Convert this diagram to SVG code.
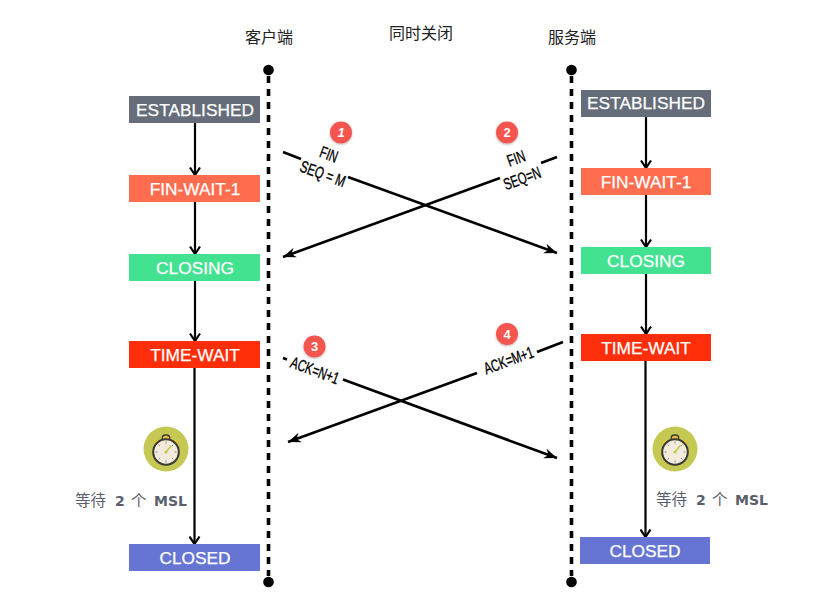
<svg xmlns="http://www.w3.org/2000/svg" width="837" height="600" viewBox="0 0 837 600">
<defs>
<marker id="open" viewBox="0 0 12 12" refX="10.5" refY="6" markerWidth="12" markerHeight="12" markerUnits="userSpaceOnUse" orient="auto"><path d="M3 1 L10.500 6 L3 11" fill="none" stroke="#000" stroke-width="2.200"/></marker>
<marker id="solid" viewBox="0 0 14 12" refX="13" refY="6" markerWidth="14" markerHeight="12" markerUnits="userSpaceOnUse" orient="auto"><path d="M0 1 L13 6 L0 11 L4 6 Z" fill="#000"/></marker>
<filter id="sh" x="-30%" y="-30%" width="160%" height="160%"><feDropShadow dx="0" dy="1" stdDeviation="1" flood-opacity="0.3"/></filter>
<g id="clock">
<circle cx="0" cy="0" r="22.500" fill="#c6c854"/>
<circle cx="-9.500" cy="-7" r="2" fill="#f2c522"/><circle cx="9.500" cy="-7" r="2" fill="#f2c522"/>
<rect x="-3.800" y="-14" width="7.600" height="6.500" rx="3.200" fill="#e5b93c" stroke="#3a3a36" stroke-width="1.300"/>
<circle cx="0" cy="3" r="12.800" fill="#f3ecdc" stroke="#3a3a36" stroke-width="2"/>
<g transform="translate(0 3)" stroke="#77756c" stroke-width="0.800"><path d="M0 -10.500V-8.500M0 10.500V8.500M-10.500 0H-8.500M10.500 0H8.500M-7.400 -7.400L-6 -6M7.400 -7.400L6 -6M-7.400 7.400L-6 6M7.400 7.400L6 6"/></g>
<path d="M0 3 L5 -3" stroke="#c6c854" stroke-width="1.600" stroke-linecap="round"/><circle cx="0" cy="3" r="1.600" fill="#c6c854"/>
</g>
</defs>
<style>
.st{font-family:"Liberation Sans",Arial,sans-serif;font-size:17.300px;fill:#fff;stroke:#fff;stroke-width:.25px;text-anchor:middle}
.ti{font-family:"Noto Sans CJK SC","Noto Sans",sans-serif;font-size:16px;fill:#222;text-anchor:middle}
.wt{font-family:"Noto Sans CJK SC","DejaVu Sans",sans-serif;font-size:15.500px;fill:#59606c}
.wb{font-family:"DejaVu Sans",sans-serif;font-size:14px;font-weight:bold;fill:#59606c}
.lb{font-family:"Liberation Sans",Arial,sans-serif;font-size:16.500px;fill:#000;stroke:#000;stroke-width:.35px;text-anchor:middle}
.nm{font-family:"Liberation Sans",Arial,sans-serif;font-size:13px;font-weight:bold;fill:#fff;text-anchor:middle}
.life{stroke:#000;stroke-width:3.600;stroke-dasharray:7 6;fill:none}
.flow{stroke:#000;stroke-width:2.200;fill:none}
.msg{stroke:#000;stroke-width:2.600;fill:none}
.dot{fill:#000}
.badge{fill:#f5544f;filter:url(#sh)}
</style>
<text class="ti" x="269" y="43">客户端</text>
<text class="ti" x="421" y="39">同时关闭</text>
<text class="ti" x="572" y="43">服务端</text>

<g id="connectors">
<path class="life" d="M268.500 76V576"/>
<path class="life" d="M571.500 76V576"/>
<circle class="dot" cx="268.500" cy="70" r="5.300"/><circle class="dot" cx="268.500" cy="582" r="5.300"/>
<circle class="dot" cx="571.500" cy="70" r="5.300"/><circle class="dot" cx="571.500" cy="582" r="5.300"/>
<path class="flow" marker-end="url(#open)" d="M195 123V175"/>
<path class="flow" marker-end="url(#open)" d="M195 202V254"/>
<path class="flow" marker-end="url(#open)" d="M195 281V341"/>
<path class="flow" marker-end="url(#open)" d="M194.500 368V544"/>
<path class="flow" marker-end="url(#open)" d="M646 116V168"/>
<path class="flow" marker-end="url(#open)" d="M646 195V247"/>
<path class="flow" marker-end="url(#open)" d="M646 274V334"/>
<path class="flow" marker-end="url(#open)" d="M645.500 361V537"/>
<path class="msg" d="M283 152L301 159"/>
<path class="msg" marker-end="url(#solid)" d="M348 177L557 253"/>
<path class="msg" d="M557 157L541 163"/>
<path class="msg" marker-end="url(#solid)" d="M500 178L283 257"/>
<path class="msg" d="M283 358L287 359.500"/>
<path class="msg" marker-end="url(#solid)" d="M343 379.500L557 458"/>
<path class="msg" d="M563 342L537 352"/>
<path class="msg" marker-end="url(#solid)" d="M477 373L288 442"/>
</g>

<g id="c-established"><rect x="129" y="96" width="131" height="27" fill="#646d79"/><text class="st" x="195" y="115.500">ESTABLISHED</text></g>
<g id="c-finwait1"><rect x="129" y="175" width="131" height="27" fill="#ff6d4f"/><text class="st" x="195" y="194.500">FIN-WAIT-1</text></g>
<g id="c-closing"><rect x="129" y="254" width="131" height="27" fill="#43e291"/><text class="st" x="195" y="273.500">CLOSING</text></g>
<g id="c-timewait"><rect x="129" y="341" width="131" height="27" fill="#ff2e0a"/><text class="st" x="195" y="360.500">TIME-WAIT</text></g>
<g id="c-closed"><rect x="129" y="544" width="131" height="27" fill="#6675d3"/><text class="st" x="195" y="563.500">CLOSED</text></g>

<g id="s-established"><rect x="581" y="90" width="130" height="27" fill="#646d79"/><text class="st" x="646" y="109">ESTABLISHED</text></g>
<g id="s-finwait1"><rect x="581" y="168" width="130" height="27" fill="#ff6d4f"/><text class="st" x="646" y="187.500">FIN-WAIT-1</text></g>
<g id="s-closing"><rect x="581" y="247" width="130" height="27" fill="#43e291"/><text class="st" x="646" y="266.500">CLOSING</text></g>
<g id="s-timewait"><rect x="581" y="334" width="130" height="27" fill="#ff2e0a"/><text class="st" x="646" y="353.500">TIME-WAIT</text></g>
<g id="s-closed"><rect x="580" y="537" width="130" height="27" fill="#6675d3"/><text class="st" x="645" y="556.500">CLOSED</text></g>

<g id="c-clock"><use href="#clock" x="166" y="449"/></g>
<g id="s-clock"><use href="#clock" x="675" y="449"/></g>

<g id="c-wait"><text class="wt" x="75" y="506">等待</text><text class="wb" x="115" y="506">2</text><text class="wt" x="131" y="506">个</text><text class="wb" x="154" y="506" textLength="33" lengthAdjust="spacingAndGlyphs">MSL</text></g>
<g id="s-wait"><text class="wt" x="656" y="505">等待</text><text class="wb" x="696" y="505">2</text><text class="wt" x="712" y="505">个</text><text class="wb" x="735" y="505" textLength="33" lengthAdjust="spacingAndGlyphs">MSL</text></g>

<g id="m1"><circle class="badge" cx="341" cy="132.500" r="11"/><text class="nm" x="341" y="137" font-style="italic">1</text>
<text class="lb" transform="translate(329 154) rotate(20) scale(0.68 1)" y="6">FIN</text>
<text class="lb" transform="translate(323 173.500) rotate(20) scale(0.7 1)" y="6">SEQ = M</text></g>
<g id="m2"><circle class="badge" cx="507" cy="132.500" r="11"/><text class="nm" x="507" y="137">2</text>
<text class="lb" transform="translate(516 158) rotate(-20) scale(0.68 1)" y="6">FIN</text>
<text class="lb" transform="translate(522 178) rotate(-20) scale(0.68 1)" y="6">SEQ=N</text></g>
<g id="m3"><circle class="badge" cx="314.500" cy="346.500" r="11"/><text class="nm" x="314.500" y="351">3</text>
<text class="lb" transform="translate(315 370) rotate(20) scale(0.68 1)" y="6">ACK=N+1</text></g>
<g id="m4"><circle class="badge" cx="507" cy="334" r="11"/><text class="nm" x="507" y="338.500">4</text>
<text class="lb" transform="translate(508.500 360) rotate(-20) scale(0.68 1)" y="6">ACK=M+1</text></g>
</svg>
